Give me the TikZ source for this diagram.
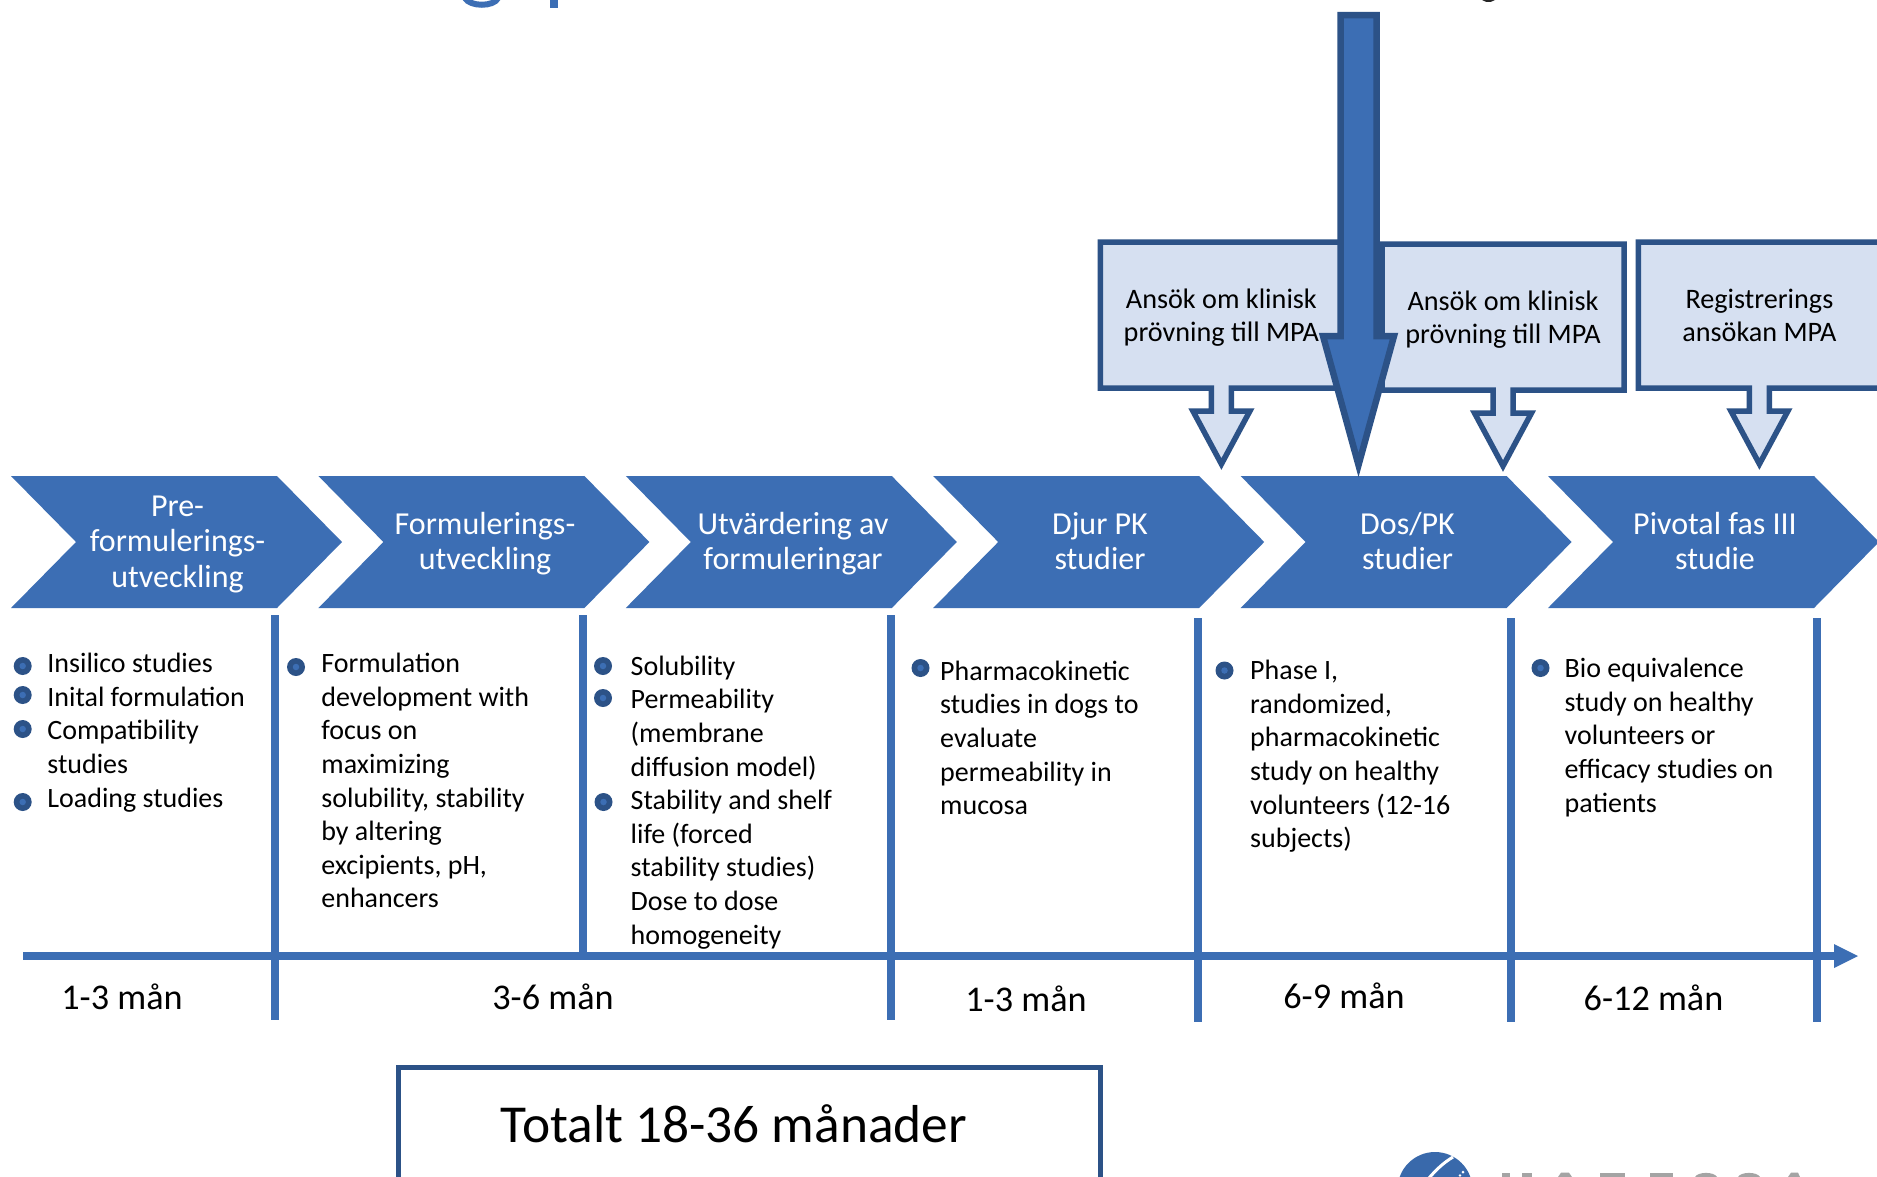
\documentclass[tikz,border=0pt]{standalone}
\usepackage{fontspec}
\setmainfont{Carlito}
\definecolor{mainblue}{HTML}{3C6EB4}
\definecolor{darkblue}{HTML}{2C5287}
\definecolor{lightblue}{HTML}{D6E0F1}
\definecolor{logogrey}{HTML}{A4A4A4}
\newcommand{\firstbody}{\rule{0pt}{22pt}}
\newcommand{\firstchev}{\rule{0pt}{24pt}}
\tikzset{
  chev/.style={fill=mainblue},
  chevtext/.style={text=white,font=\fontsize{32}{35.4}\selectfont,align=center,inner sep=0pt,anchor=north,yshift=24pt},
  body/.style={font=\fontsize{28}{33.6}\selectfont,align=left,inner sep=0pt,anchor=north west,yshift=22pt},
  calltext/.style={font=\fontsize{28.2}{33.6}\selectfont,align=center,inner sep=0pt,anchor=north,yshift=22pt},
  dur/.style={font=\fontsize{36.2}{40}\selectfont,inner sep=0pt,anchor=base},
  divider/.style={draw=mainblue,line width=8pt},
  callout/.style={draw=darkblue,fill=lightblue,line width=5.5pt,miter limit=10},
  bigarrow/.style={draw=darkblue,fill=mainblue,line width=6.5pt,miter limit=10},
  bullet/.style={circle,fill=darkblue,inner sep=0pt,minimum size=18pt},
  bulletcore/.style={circle,fill=mainblue,inner sep=0pt,minimum size=6.5pt}
}
\newcommand{\chevron}[1]{\fill[chev] (#1,476) -- ({#1+266},476) -- ({#1+331},542) -- ({#1+266},608) -- (#1,608) -- ({#1+65},542) -- cycle;}
\newcommand{\calloutshape}[2]{\draw[callout] ({#1-121},{#2}) -- ({#1+121},{#2}) -- ({#1+121},{#2+146}) -- ({#1+10},{#2+146}) -- ({#1+10},{#2+169}) -- ({#1+28.5},{#2+169}) -- (#1,{#2+222}) -- ({#1-28.5},{#2+169}) -- ({#1-10},{#2+169}) -- ({#1-10},{#2+146}) -- ({#1-121},{#2+146}) -- cycle;}
\newcommand{\blt}[3]{\node[bullet] (#1) at (#2,#3) {}; \node[bulletcore] at (#1.center) {};}
\begin{document}
\begin{tikzpicture}[x=1pt,y=-1pt]
\useasboundingbox (0,0) rectangle (1877,1176);
\clip (0,0) rectangle (1877,1176);
\fill[white] (0,0) rectangle (1877,1176);

% remains of the cut-off title
\draw[mainblue,line width=6pt] (465,-2) .. controls (470,7) and (494,7) .. (498,-2);
\fill[mainblue] (550,0) rectangle (558,8);
\fill[black!85] (1482,0) -- (1495,0) -- (1491,1.8) -- (1486,1.8) -- cycle;

% chevrons
\chevron{11}
\chevron{318.4}
\chevron{625.8}
\chevron{933.2}
\chevron{1240.6}
\chevron{1548}
\node[chevtext] (c1) at (177.5,516) {\firstchev Pre-\\formulerings-\\utveckling};
\node[chevtext] (c2) at (485,534) {\firstchev Formulerings-\\utveckling};
\node[chevtext] (c3) at (793,534) {\firstchev Utvärdering av\\formuleringar};
\node[chevtext] (c4) at (1100,534) {\firstchev Djur PK\\studier};
\node[chevtext] (c5) at (1407.5,534) {\firstchev Dos/PK\\studier};
\node[chevtext] (c6) at (1715,534) {\firstchev Pivotal fas III\\studie};

% callouts
\calloutshape{1221.4}{242}
\calloutshape{1503}{244}
\calloutshape{1759.4}{242}
\node[calltext] (a1) at (1221.4,308) {\firstbody Ansök om klinisk\\prövning till MPA};
\node[calltext] (a2) at (1503,310) {\firstbody Ansök om klinisk\\prövning till MPA};
\node[calltext] (a3) at (1759.4,308) {\firstbody Registrerings\\ansökan MPA};

% big arrow
\draw[bigarrow] (1340.5,15) -- (1376.5,15) -- (1376.5,336) -- (1394,336) -- (1358.5,465) -- (1323,336) -- (1340.5,336) -- cycle;

% timeline
\coordinate (t0) at (23,956);
\coordinate (t1) at (1836,956);
\coordinate (t2) at (1858,956);
\draw[draw=mainblue,line width=8pt] (t0) -- (t1);
\fill[mainblue] (1834,944) -- (t2) -- (1834,968) -- cycle;
\draw[divider] (275.3,615) -- (275.3,1020);
\draw[divider] (583,615) -- (583,956);
\draw[divider] (890.6,615) -- (890.6,1020);
\draw[divider] (1197.5,618) -- (1197.5,1022);
\draw[divider] (1510.6,618) -- (1510.6,1022);
\draw[divider] (1816.7,618) -- (1816.7,1022);

% column 1
\blt{b11}{22.7}{666}\blt{b12}{22.7}{695}\blt{b13}{22.7}{729}\blt{b14}{22.7}{802}
\node[body] (t1a) at (47.2,672.5) {\firstbody Insilico studies\\Inital formulation\\Compatibility\\studies\\Loading studies};
% column 2
\blt{b21}{296}{667}
\node[body] (t2a) at (321.2,672.5) {\firstbody Formulation\\development with\\focus on\\maximizing\\solubility, stability\\by altering\\excipients, pH,\\enhancers};
% column 3
\blt{b31}{603}{666}\blt{b32}{603}{698}\blt{b33}{603.5}{802}
\node[body] (t3a) at (630.5,675) {\firstbody Solubility\\Permeability\\(membrane\\diffusion model)\\Stability and shelf\\life (forced\\stability studies)\\Dose to dose\\homogeneity};
% column 4
\blt{b41}{920.5}{668}
\node[body] (t4a) at (940,680) {\firstbody Pharmacokinetic\\studies in dogs to\\evaluate\\permeability in\\mucosa};
% column 5
\blt{b51}{1224.5}{670.5}
\node[body] (t5a) at (1250,679.5) {\firstbody Phase I,\\randomized,\\pharmacokinetic\\study on healthy\\volunteers (12-16\\subjects)};
% column 6
\blt{b61}{1540.5}{668}
\node[body] (t6a) at (1564.5,677.5) {\firstbody Bio equivalence\\study on healthy\\volunteers or\\efficacy studies on\\patients};

% durations
\node[dur] (d1) at (122,1009) {1-3 mån};
\node[dur] (d2) at (553,1009) {3-6 mån};
\node[dur] (d3) at (1026,1011) {1-3 mån};
\node[dur] (d4) at (1344,1008) {6-9 mån};
\node[dur] (d5) at (1653.5,1010) {6-12 mån};

% total box
\draw[draw=darkblue,line width=5pt] (398,1190) -- (398,1067.5) -- (1100,1067.5) -- (1100,1190);
\node[font=\fontsize{53.4}{60}\selectfont,inner sep=0pt,anchor=base] (tot) at (734,1142) {Totalt 18-36 månader};

% logo, cut off by the edge
\fill[mainblue!95!black] (1435,1189.5) circle (37.5);
\draw[white,line width=3pt] (1453,1157) .. controls (1443,1163) and (1436,1170) .. (1429,1178);
\fill[white] (1463,1172) circle (1.5);
\fill[white] (1460,1175.5) circle (1.3);
\fill[logogrey] (1502,1172.7) rectangle (1510,1177);
\fill[logogrey] (1522,1172.7) rectangle (1532,1177);
\fill[logogrey] (1558,1177) -- (1561,1172.7) -- (1569,1172.7) -- (1572,1177) -- cycle;
\fill[logogrey] (1600,1172.7) rectangle (1625,1177);
\fill[logogrey] (1650,1172.7) rectangle (1673,1177);
\fill[logogrey] (1695,1177) .. controls (1698,1171.5) and (1714,1171.5) .. (1717,1177) -- cycle;
\fill[logogrey] (1738,1177) .. controls (1741,1171.5) and (1757,1171.5) .. (1760,1177) -- cycle;
\fill[logogrey] (1788,1177) -- (1791,1172.7) -- (1798,1172.7) -- (1800,1177) -- cycle;
\end{tikzpicture}
\end{document}
